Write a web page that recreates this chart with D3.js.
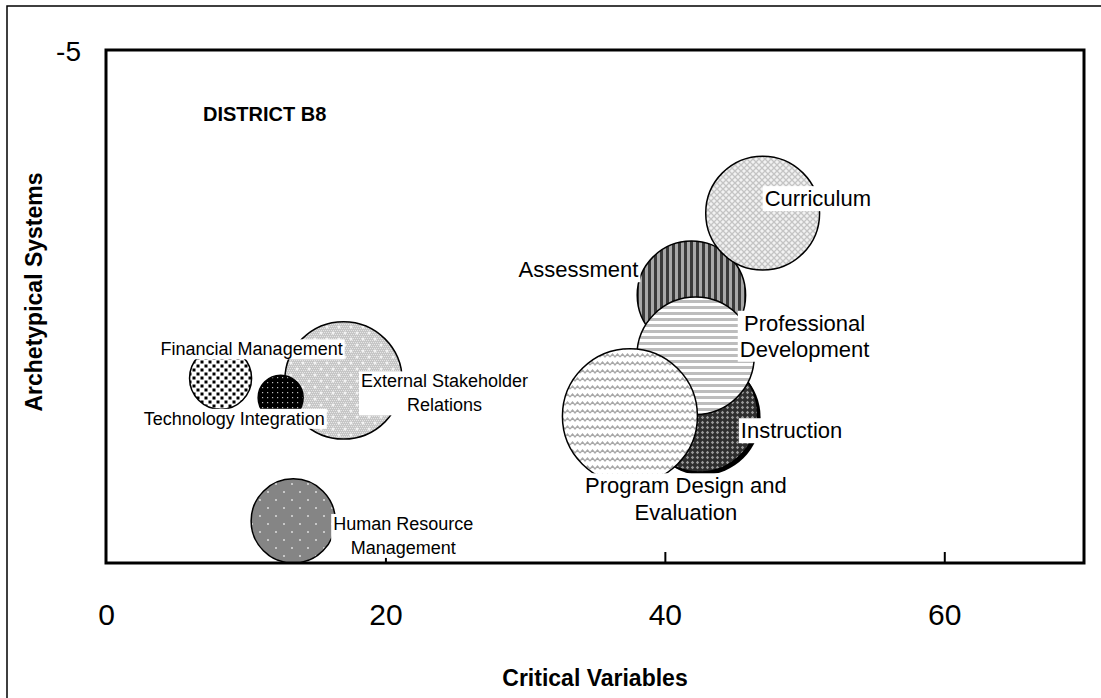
<!DOCTYPE html>
<html>
<head>
<meta charset="utf-8">
<script src="https://cdn.jsdelivr.net/npm/d3@7"></script>
<style>
  html, body { margin: 0; padding: 0; background: #fff; }
  svg text { font-family: "Liberation Sans", Arial, sans-serif; fill: #000; }
</style>
</head>
<body>
<svg id="chart" width="1101" height="698"></svg>
<script>
// bubble data (drawing order = bottom to top)
const systems   = ['Assessment', 'Curriculum', 'Instruction', 'Professional Development', 'Program Design and Evaluation',
                   'External Stakeholder Relations', 'Financial Management', 'Technology Integration', 'Human Resource Management'];
const critVars  = [41.9, 47.0, 42.5, 42.2, 37.5, 17.0, 8.2, 12.5, 13.4];
const archSys   = [-2.61, -3.41, -1.45, -2.02, -1.43, -1.78, -1.80, -1.61, -0.41];
const sizes     = [29, 32, 33, 34, 45, 34, 9.5, 5, 17.5];
const patterns  = ['assess', 'curr', 'instr', 'pd', 'prog', 'ext', 'fin', 'tech', 'hr'];

const xTicks = [0, 20, 40, 60];
const yTicks = [-5];

const svg = d3.select('#chart');
const margin = { left: 106, top: 50, right: 1084, bottom: 563 };

const x = d3.scaleLinear().domain([0, 70]).range([margin.left, margin.right]);
const y = d3.scaleLinear().domain([-5, 0]).range([margin.top, margin.bottom]);
const r = d3.scaleSqrt().domain([0, 45]).range([0, 67.5]);

// ---- fill patterns ----
const defs = svg.append('defs');
function pat(id, w, h) {
    return defs.append('pattern').attr('id', id).attr('patternUnits', 'userSpaceOnUse')
        .attr('width', w).attr('height', h);
}
// curriculum: light trellis
let p = pat('curr', 6, 6);
p.append('rect').attr('width', 6).attr('height', 6).attr('fill', '#f2f2f2');
p.append('path').attr('d', 'M0,0L6,6M6,0L0,6').attr('stroke', '#c4c4c4').attr('stroke-width', 1.3);
// assessment: vertical stripes
p = pat('assess', 6, 6);
p.append('rect').attr('width', 6).attr('height', 6).attr('fill', '#a8a8a8');
p.append('rect').attr('width', 3).attr('height', 6).attr('fill', '#3a3a3a');
// professional development: horizontal stripes
p = pat('pd', 6, 6);
p.append('rect').attr('width', 6).attr('height', 6).attr('fill', '#fff');
p.append('rect').attr('width', 6).attr('height', 3).attr('fill', '#bdbdbd');
// program design: waves
p = pat('prog', 10, 8);
p.append('rect').attr('width', 10).attr('height', 8).attr('fill', '#fff');
p.append('path').attr('d', 'M0,5L2.5,2L5,5L7.5,2L10,5').attr('fill', 'none')
    .attr('stroke', '#a8a8a8').attr('stroke-width', 1.3);
// instruction: dark diamond crosshatch
p = pat('instr', 5, 5);
p.append('rect').attr('width', 5).attr('height', 5).attr('fill', '#2e2e2e');
p.append('path').attr('d', 'M2.5,0.8L4.2,2.5L2.5,4.2L0.8,2.5Z').attr('fill', '#9a9a9a');
// external stakeholder: fine grey checker with white crosses
p = pat('ext', 12, 12);
p.append('rect').attr('width', 12).attr('height', 12).attr('fill', '#c6c6c6');
for (let i = 0; i < 12; i += 2) {
    for (let j = (i / 2) % 2 ? 1 : 0; j < 12; j += 2) {
        p.append('rect').attr('x', j).attr('y', i).attr('width', 1).attr('height', 1).attr('fill', '#e6e6e6');
    }
}
p.append('path').attr('d', 'M3,1.5V4.5M1.5,3H4.5M9,7.5V10.5M7.5,9H10.5').attr('stroke', '#fff').attr('stroke-width', 1);
// financial: large confetti
p = pat('fin', 8, 8);
p.append('rect').attr('width', 8).attr('height', 8).attr('fill', '#fff');
p.append('rect').attr('x', 0.5).attr('y', 0.5).attr('width', 3).attr('height', 3).attr('fill', '#000');
p.append('rect').attr('x', 4.5).attr('y', 4.5).attr('width', 3).attr('height', 3).attr('fill', '#000');
// technology: black with white dots
p = pat('tech', 5, 5);
p.append('rect').attr('width', 5).attr('height', 5).attr('fill', '#000');
p.append('rect').attr('x', 2).attr('y', 2).attr('width', 1.2).attr('height', 1.2).attr('fill', '#bbb');
// human resource: mid grey with white dots
p = pat('hr', 16, 16);
p.append('rect').attr('width', 16).attr('height', 16).attr('fill', '#858585');
p.append('circle').attr('cx', 4).attr('cy', 4).attr('r', 1).attr('fill', '#ddd');
p.append('circle').attr('cx', 12).attr('cy', 12).attr('r', 1).attr('fill', '#ddd');

// outer frame
svg.append('rect').attr('x', 7).attr('y', 6).attr('width', 1110).attr('height', 720)
    .attr('fill', 'none').attr('stroke', '#000').attr('stroke-width', 1.5);

// bubbles
const data = systems.map((name, i) => ({
    name, cx: critVars[i], cy: archSys[i], size: sizes[i], fill: patterns[i]
}));

const plot = svg.append('g');
plot.append('clipPath').attr('id', 'plotclip').append('rect')
    .attr('x', margin.left).attr('y', margin.top)
    .attr('width', margin.right - margin.left).attr('height', margin.bottom - margin.top);

const bubbles = plot.append('g').attr('clip-path', 'url(#plotclip)');
bubbles.selectAll('g.bubble')
    .data(data)
    .enter()
    .append('g')
    .attr('class', 'bubble')
    .each(function(d) {
        const g = d3.select(this);
        if (d.fill === 'instr') {
            // black rim on the instruction bubble
            g.append('circle')
                .attr('cx', x(d.cx) + 3).attr('cy', y(d.cy) + 3).attr('r', r(d.size))
                .attr('fill', '#000');
        }
        g.append('circle')
            .attr('cx', x(d.cx)).attr('cy', y(d.cy)).attr('r', r(d.size))
            .attr('fill', `url(#${d.fill})`)
            .attr('stroke', '#000').attr('stroke-width', 1.5);
    });

// plot area border
svg.append('rect')
    .attr('x', margin.left).attr('y', margin.top)
    .attr('width', margin.right - margin.left).attr('height', margin.bottom - margin.top)
    .attr('fill', 'none').attr('stroke', '#000').attr('stroke-width', 3);

// x axis ticks (inside) and labels
const xAxis = d3.axisBottom(x).tickValues(xTicks).tickSize(0).tickPadding(0);
const xg = svg.append('g').attr('transform', `translate(0,${margin.bottom})`).call(xAxis);
xg.select('.domain').remove();
xg.selectAll('.tick line').remove();
xg.selectAll('.tick').filter(d => d > 0).append('line')
    .attr('y1', 0).attr('y2', -11).attr('stroke', '#000').attr('stroke-width', 2);
xg.selectAll('.tick text')
    .attr('y', 62).attr('dy', 0)
    .attr('font-size', 30).attr('font-family', '"Liberation Sans", Arial, sans-serif').attr('fill', '#000');

// y axis label (only -5 shown)
const yAxis = d3.axisLeft(y).tickValues(yTicks).tickFormat(d => String(d)).tickSize(0).tickPadding(0);
const yg = svg.append('g').attr('transform', `translate(${margin.left},0)`).call(yAxis);
yg.select('.domain').remove();
yg.selectAll('.tick text')
    .attr('x', -25).attr('dy', 10)
    .attr('font-size', 28).attr('font-family', '"Liberation Sans", Arial, sans-serif').attr('fill', '#000');

// axis titles
svg.append('text')
    .attr('x', (margin.left + margin.right) / 2).attr('y', 686)
    .attr('text-anchor', 'middle').attr('font-size', 23).attr('font-weight', 'bold')
    .text('Critical Variables');
svg.append('text')
    .attr('transform', 'translate(42,292) rotate(-90)')
    .attr('text-anchor', 'middle').attr('font-size', 23).attr('font-weight', 'bold')
    .text('Archetypical Systems');

svg.append('text')
    .attr('x', 203).attr('y', 121)
    .attr('font-size', 20).attr('font-weight', 'bold')
    .text('DISTRICT B8');

// data labels with white boxes; dx/dy = first baseline offset from bubble centre
const labelPlacement = {
    'Assessment':                     { dx: -53,  dy: -18, anchor: 'end',    fs: 22, lh: 26, lines: ['Assessment'] },
    'Curriculum':                     { dx: 2,    dy: -7,  anchor: 'start',  fs: 22, lh: 26, lines: ['Curriculum'] },
    'Instruction':                    { dx: 41,   dy: 24,  anchor: 'start',  fs: 22, lh: 26, lines: ['Instruction'] },
    'Professional Development':       { dx: 109,  dy: -25, anchor: 'middle', fs: 22, lh: 26, lines: ['Professional', 'Development'] },
    'Program Design and Evaluation':  { dx: 56,   dy: 77,  anchor: 'middle', fs: 22, lh: 27, lines: ['Program Design and', 'Evaluation'] },
    'External Stakeholder Relations': { dx: 101,  dy: 7,   anchor: 'middle', fs: 18, lh: 24, lines: ['External Stakeholder', 'Relations'] },
    'Financial Management':           { dx: -60,  dy: -23, anchor: 'start',  fs: 18, lh: 24, lines: ['Financial Management'] },
    'Technology Integration':         { dx: -137, dy: 27,  anchor: 'start',  fs: 18, lh: 24, lines: ['Technology Integration'] },
    'Human Resource Management':      { dx: 110,  dy: 9,   anchor: 'middle', fs: 18, lh: 24, lines: ['Human Resource', 'Management'] }
};

const labels = svg.append('g');
data.forEach(d => {
    const lp = labelPlacement[d.name];
    const g = labels.append('g');
    const t = g.append('text')
        .attr('text-anchor', lp.anchor)
        .attr('font-size', lp.fs);
    lp.lines.forEach((line, k) => {
        t.append('tspan')
            .attr('x', x(d.cx) + lp.dx)
            .attr('y', y(d.cy) + lp.dy + k * lp.lh)
            .text(line);
    });
    const bb = t.node().getBBox();
    g.insert('rect', 'text')
        .attr('x', bb.x - 2).attr('y', bb.y)
        .attr('width', bb.width + 4).attr('height', bb.height)
        .attr('fill', '#fff');
});
</script>
</body>
</html>
